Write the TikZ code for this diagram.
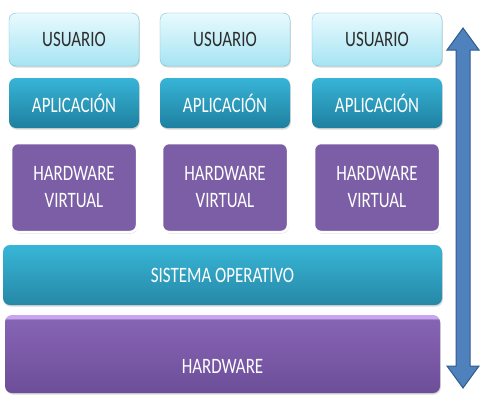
\documentclass[tikz,border=0pt]{standalone}
\usepackage{fontspec}
\setmainfont[FakeStretch=0.77]{Carlito}
\usetikzlibrary{shadows}
\definecolor{usTop}{RGB}{232,250,254}
\definecolor{usBot}{RGB}{166,228,243}
\definecolor{usLine}{RGB}{120,190,208}
\definecolor{apTop}{RGB}{55,180,214}
\definecolor{apBot}{RGB}{30,128,160}
\definecolor{hvFill}{RGB}{124,94,166}
\definecolor{soTop}{RGB}{56,182,215}
\definecolor{soBot}{RGB}{38,136,166}
\definecolor{hwBot}{RGB}{108,78,152}
\definecolor{hwMid}{RGB}{126,92,171}
\definecolor{hwHigh}{RGB}{134,100,180}
\definecolor{hwBand}{RGB}{200,166,238}
\definecolor{flecha}{RGB}{79,129,189}
\definecolor{flechaLine}{RGB}{50,92,140}
\definecolor{texto}{RGB}{45,45,45}
\pgfdeclareverticalshading{hwsh}{100bp}{color(0bp)=(hwBot); color(25bp)=(hwBot); color(55bp)=(hwMid); color(72bp)=(hwHigh); color(73bp)=(hwBand); color(75bp)=(hwBand); color(100bp)=(hwBand)}

\begin{document}
\begin{tikzpicture}[x=1pt,y=-1pt,
  caja/.style={rounded corners=7pt,inner sep=0pt,align=center,
    font=\fontsize{22}{27}\selectfont,
    drop shadow={shadow xshift=0.8pt,shadow yshift=-1.5pt,opacity=0.3}},
  usuario/.style={caja,minimum width=130pt,minimum height=53pt,
    top color=usTop,bottom color=usBot,draw=usLine,text=texto},
  aplic/.style={caja,minimum width=130pt,minimum height=50pt,
    top color=apTop,bottom color=apBot,text=white},
  hwvirt/.style={caja,minimum width=126pt,minimum height=89pt,
    fill=hvFill,draw=white,line width=2.5pt,text=white},
  sisop/.style={caja,minimum width=439pt,minimum height=60pt,
    top color=soTop,bottom color=soBot,text=white},
  hw/.style={caja,minimum width=435pt,minimum height=78pt,
    shading=hwsh,text=white}]
\useasboundingbox[fill=white] (0,0) rectangle (495,407);
\foreach \x/\n in {74/1,225/2,377/3}{
  \node[usuario] (us\n) at (\x,39.5) {USUARIO};
  \node[aplic] (ap\n) at (\x,103) {APLICACIÓN};
  \node[hwvirt] (hv\n) at (\x,187.5) {HARDWARE\\VIRTUAL};
}
\node[sisop] (so) at (222.5,275) {SISTEMA OPERATIVO};
\node[hw, label={[text=white,font=\fontsize{22}{27}\selectfont,yshift=-12pt]center:HARDWARE}] (hw) at (222.5,354) {};
\fill[flecha,draw=flechaLine,line width=1pt]
  (463,28) -- (479,50) -- (470,50) -- (470,366) -- (479,366) -- (463,388)
  -- (447,366) -- (456,366) -- (456,50) -- (447,50) -- cycle;
\end{tikzpicture}
\end{document}
